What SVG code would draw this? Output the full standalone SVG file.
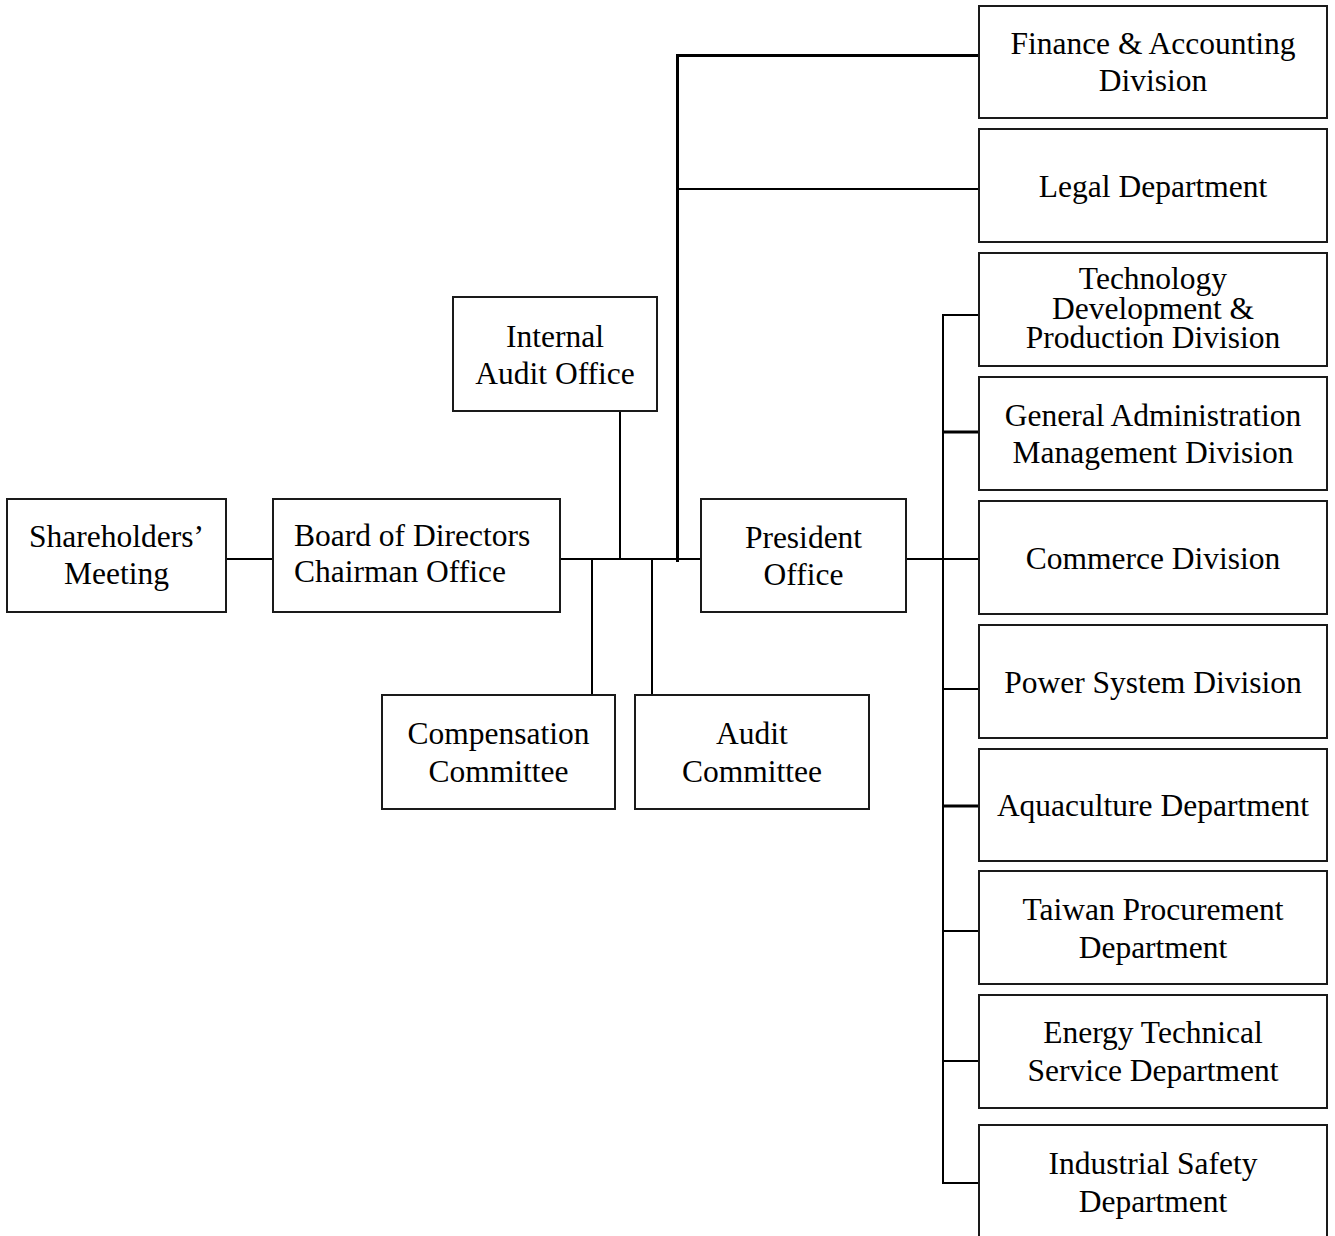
<svg xmlns="http://www.w3.org/2000/svg" width="1335" height="1236" viewBox="0 0 1335 1236">
<style>
.box{fill:#fff;stroke:#1a1a1a;stroke-width:2}
.t{font-family:"Liberation Serif","Times New Roman",serif;font-size:31.5px;fill:#000;text-anchor:middle}
.tl{text-anchor:start}
.ln{stroke:#000;stroke-width:2;fill:none}
.thick{stroke-width:3}
</style>
<rect width="1335" height="1236" fill="#fff"/>
<g id="connectors">
<line class="ln" x1="226" y1="559" x2="273" y2="559"/>
<line class="ln" x1="560" y1="559" x2="701" y2="559"/>
<line class="ln" x1="620" y1="411" x2="620" y2="559"/>
<line class="ln" x1="592" y1="559" x2="592" y2="695"/>
<line class="ln" x1="652" y1="559" x2="652" y2="695"/>
<line class="ln thick" x1="677.5" y1="54" x2="677.5" y2="562"/>
<line class="ln thick" x1="676" y1="55.5" x2="979" y2="55.5"/>
<line class="ln" x1="677" y1="189" x2="979" y2="189"/>
<line class="ln" x1="906" y1="559" x2="979" y2="559"/>
<line class="ln" x1="943" y1="314" x2="943" y2="1184"/>
<line class="ln" x1="943" y1="315" x2="979" y2="315"/>
<line class="ln thick" x1="943" y1="432" x2="979" y2="432"/>
<line class="ln" x1="943" y1="689" x2="979" y2="689"/>
<line class="ln thick" x1="943" y1="806" x2="979" y2="806"/>
<line class="ln" x1="943" y1="931" x2="979" y2="931"/>
<line class="ln" x1="943" y1="1061" x2="979" y2="1061"/>
<line class="ln" x1="943" y1="1183" x2="979" y2="1183"/>
</g>
<g id="shareholders">
<rect class="box" x="7" y="499" width="219" height="113"/>
<text class="t" x="116.5" y="547">Shareholders’</text>
<text class="t" x="116.5" y="584">Meeting</text>
</g>
<g id="board">
<rect class="box" x="273" y="499" width="287" height="113"/>
<text class="t tl" x="294" y="546">Board of Directors</text>
<text class="t tl" x="294" y="582">Chairman Office</text>
</g>
<g id="internal-audit">
<rect class="box" x="453" y="297" width="204" height="114"/>
<text class="t" x="555" y="347">Internal</text>
<text class="t" x="555" y="384">Audit Office</text>
</g>
<g id="compensation">
<rect class="box" x="382" y="695" width="233" height="114"/>
<text class="t" x="498.5" y="744">Compensation</text>
<text class="t" x="498.5" y="782">Committee</text>
</g>
<g id="audit-committee">
<rect class="box" x="635" y="695" width="234" height="114"/>
<text class="t" x="752" y="744">Audit</text>
<text class="t" x="752" y="782">Committee</text>
</g>
<g id="president">
<rect class="box" x="701" y="499" width="205" height="113"/>
<text class="t" x="803.5" y="548">President</text>
<text class="t" x="803.5" y="585">Office</text>
</g>
<g id="finance">
<rect class="box" x="979" y="6" width="348" height="112"/>
<text class="t" x="1153" y="54">Finance &amp; Accounting</text>
<text class="t" x="1153" y="91">Division</text>
</g>
<g id="legal">
<rect class="box" x="979" y="129" width="348" height="113"/>
<text class="t" x="1153" y="197">Legal Department</text>
</g>
<g id="technology">
<rect class="box" x="979" y="253" width="348" height="113"/>
<text class="t" x="1153" y="289">Technology</text>
<text class="t" x="1153" y="319">Development &amp;</text>
<text class="t" x="1153" y="348">Production Division</text>
</g>
<g id="general-admin">
<rect class="box" x="979" y="377" width="348" height="113"/>
<text class="t" x="1153" y="426">General Administration</text>
<text class="t" x="1153" y="463">Management Division</text>
</g>
<g id="commerce">
<rect class="box" x="979" y="501" width="348" height="113"/>
<text class="t" x="1153" y="569">Commerce Division</text>
</g>
<g id="power">
<rect class="box" x="979" y="625" width="348" height="113"/>
<text class="t" x="1153" y="693">Power System Division</text>
</g>
<g id="aquaculture">
<rect class="box" x="979" y="749" width="348" height="112"/>
<text class="t" x="1153" y="816">Aquaculture Department</text>
</g>
<g id="taiwan-procurement">
<rect class="box" x="979" y="871" width="348" height="113"/>
<text class="t" x="1153" y="920">Taiwan Procurement</text>
<text class="t" x="1153" y="958">Department</text>
</g>
<g id="energy">
<rect class="box" x="979" y="995" width="348" height="113"/>
<text class="t" x="1153" y="1043">Energy Technical</text>
<text class="t" x="1153" y="1081">Service Department</text>
</g>
<g id="industrial-safety">
<rect class="box" x="979" y="1125" width="348" height="125"/>
<text class="t" x="1153" y="1174">Industrial Safety</text>
<text class="t" x="1153" y="1212">Department</text>
</g>
</svg>
